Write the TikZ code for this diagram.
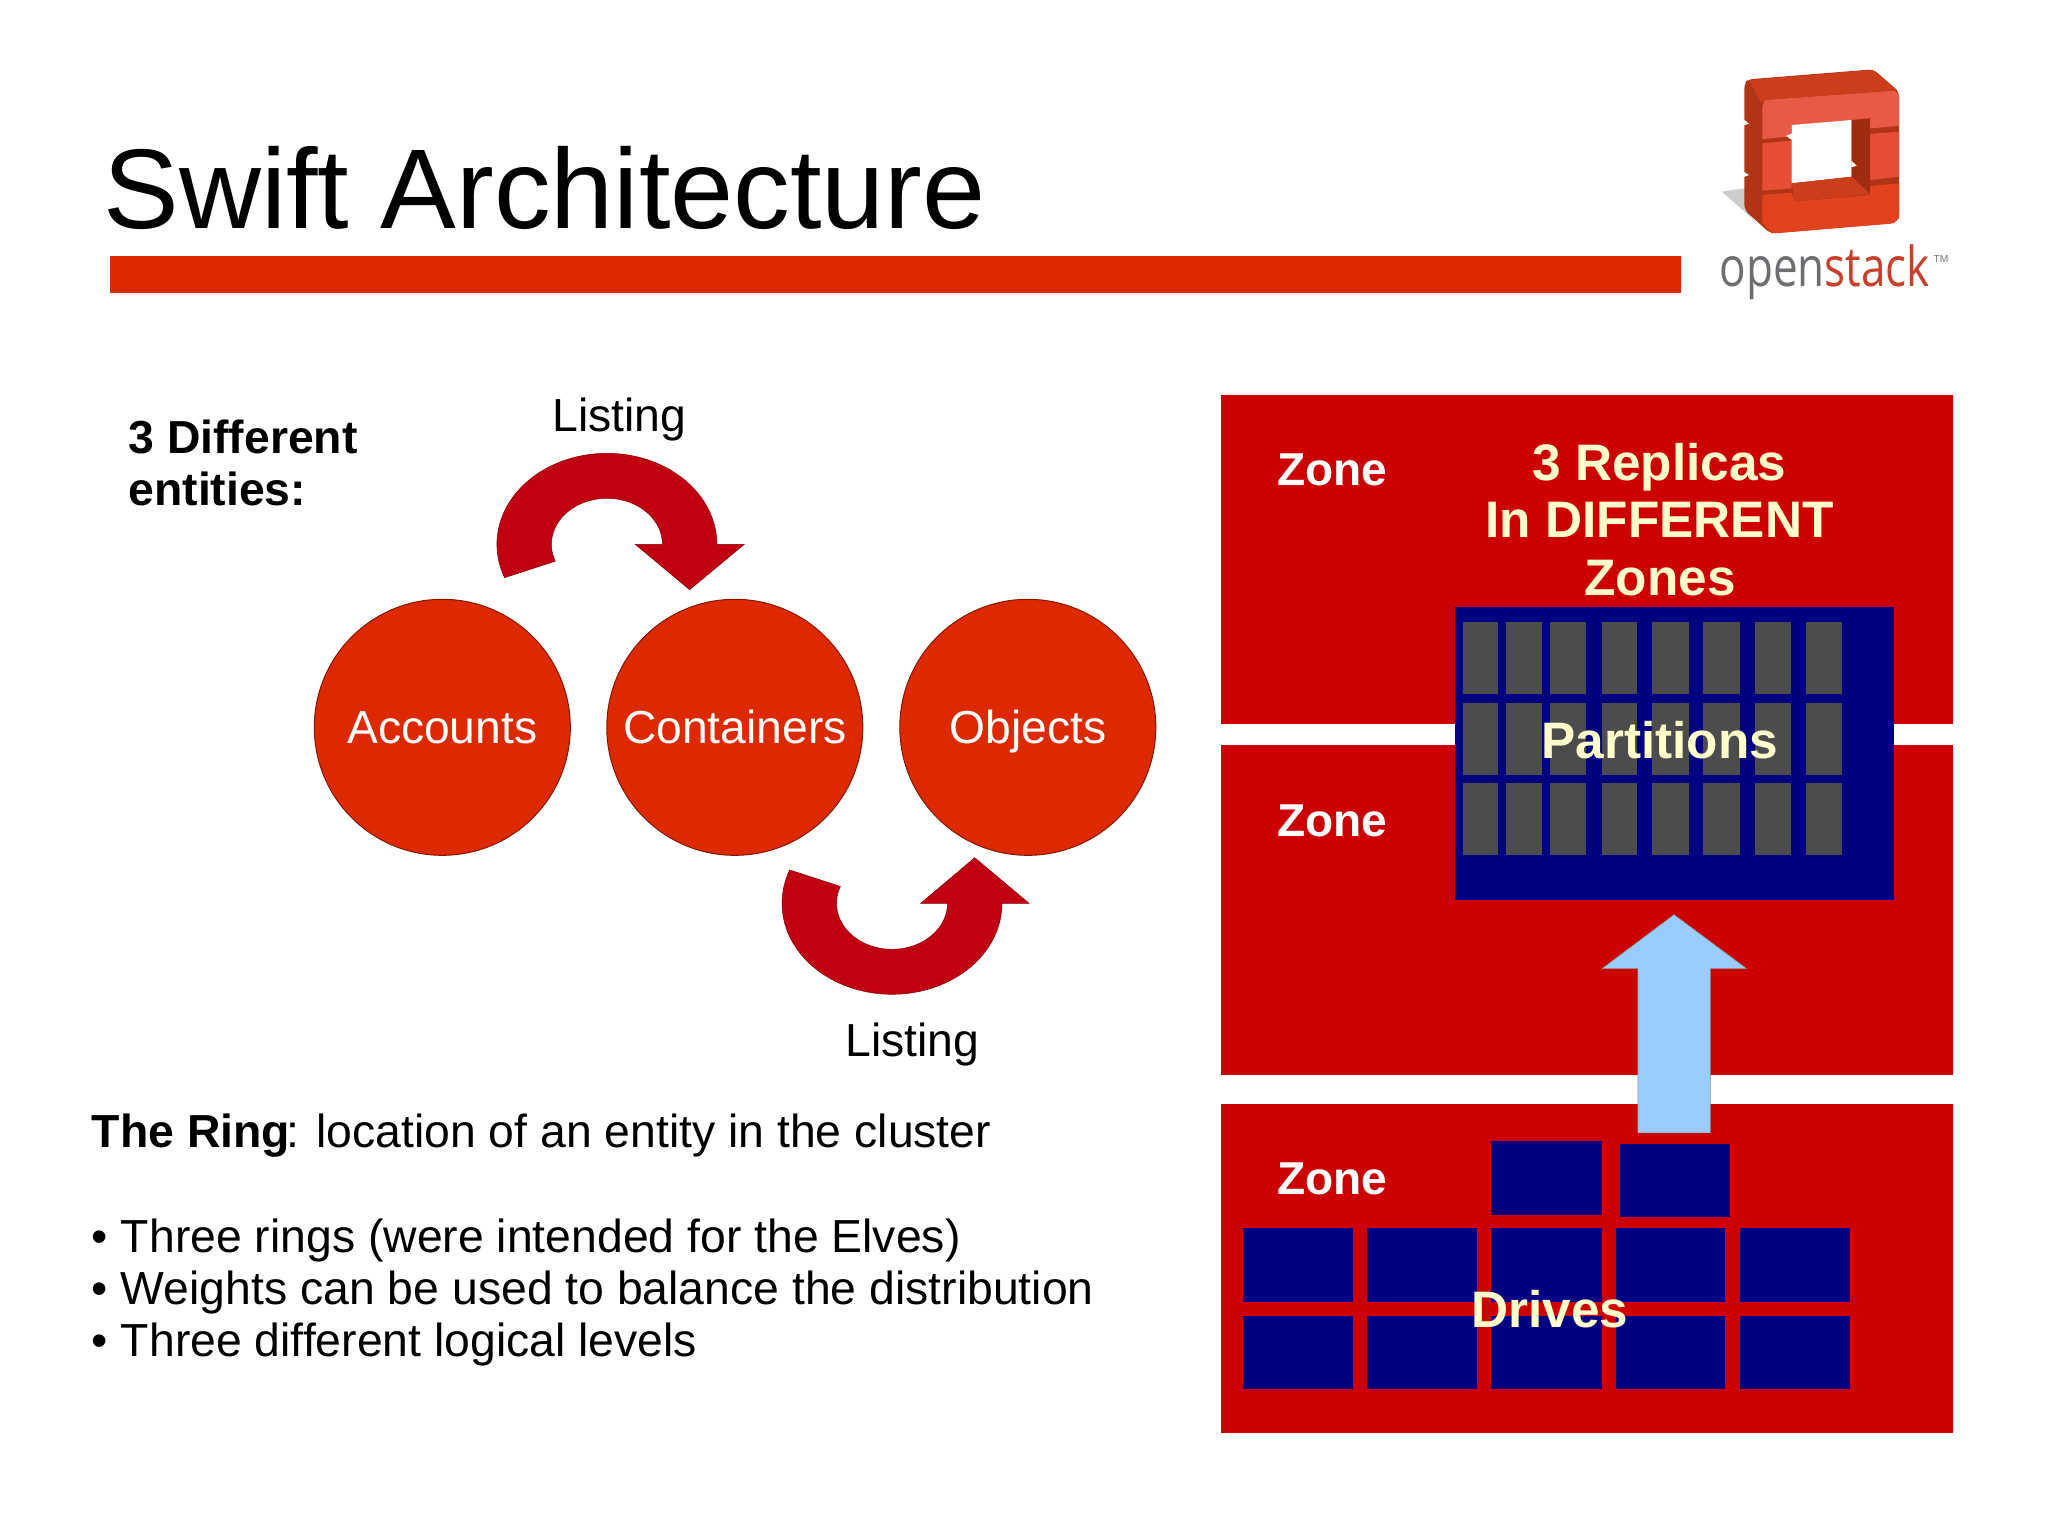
\documentclass[tikz,border=0pt]{standalone}
\usepackage{fontspec}
\setmainfont{Liberation Sans}
\newfontfamily\logofont{Open Sans}
\definecolor{barred}{HTML}{DD2900}
\definecolor{zonered}{HTML}{CC0000}
\definecolor{arrowred}{HTML}{C00010}
\definecolor{drivenavy}{HTML}{000080}
\definecolor{partgrey}{HTML}{4C4C4C}
\definecolor{upblue}{HTML}{99CCFF}
\definecolor{cream}{HTML}{FFFFCC}
\definecolor{logodark}{RGB}{178,52,22}
\definecolor{logodeep}{RGB}{160,44,16}
\definecolor{logotop}{RGB}{204,61,28}
\definecolor{logolight}{RGB}{232,90,70}
\definecolor{logomid}{RGB}{230,79,54}
\definecolor{logolow}{RGB}{226,67,31}
\tikzset{
  entity/.style={circle,fill=barred,draw=barred!60!black,line width=.4pt,minimum size=100pt,inner sep=0pt,
    text=white,text height=13pt,text depth=0pt,font=\fontsize{18.05}{21}\selectfont},
  lab/.style={anchor=base west,inner sep=0pt,font=\fontsize{18.1}{20.6}\selectfont},
  zonelab/.style={anchor=base west,inner sep=0pt,text=white,font=\fontsize{18}{21}\selectfont\bfseries},
  creamlab/.style={anchor=base,inner sep=0pt,text=cream,font=\fontsize{20.05}{22.3}\selectfont\bfseries},
}
\begin{document}
\begin{tikzpicture}[x=0.390625pt,y=-0.390625pt]
    \useasboundingbox (0,0) rectangle (2048,1535);
    % title
    \node[anchor=base west,inner sep=0pt,font=\fontsize{44.3}{50}\selectfont] (title) at (103,228) {Swift Architecture};
    \fill[barred] (110,256) rectangle (1681,292.5);

    % logo
    \begin{scope}[shift={(1680,40)},scale=1/3]
    \fill[black!20] (125,455) -- (195,445) -- (195,510) -- (228,545) -- cycle;
    \fill[logodark,rounded corners=2pt] (193,130) -- (205,118) -- (580,88) -- (657,155) -- (657,535) -- (640,550) -- (272,581) -- (193,510) -- cycle;
    \fill[logotop] (207,120) -- (578,90) -- (650,150) -- (255,180) -- (245,190) -- cycle;
    \fill[logolight] (247,200) -- (255,180) -- (645,152) -- (657,165) -- (657,258) -- (570,265) -- (570,237) -- (335,255) -- (330,290) -- (247,297) -- cycle;
    \fill[logomid] (247,310) -- (335,302) -- (335,445) -- (247,452) -- cycle;
    \fill[logomid] (570,282) -- (657,275) -- (657,410) -- (570,420) -- cycle;
    \fill[white] (335,255) -- (515,240) -- (515,410) -- (335,430) -- cycle;
    \fill[logodeep] (515,240) -- (570,235) -- (570,465) -- (515,410) -- cycle;
    \fill[logotop] (335,430) -- (515,410) -- (570,462) -- (345,485) -- cycle;
    \fill[logolow] (247,465) -- (335,458) -- (345,485) -- (570,465) -- (570,438) -- (657,430) -- (657,535) -- (640,550) -- (275,580) -- (247,548) -- cycle;
    % notches
    \fill[white] (191,238) -- (207,251) -- (191,256) -- cycle;
    \fill[white] (191,395) -- (207,405) -- (191,411) -- cycle;
    \fill[white] (318,288) -- (336,280) -- (336,300) -- cycle;
    \fill[white] (514,362) -- (530,377) -- (514,382) -- cycle;
    \end{scope}
    \node[anchor=base west,inner sep=0pt,font=\logofont\fontsize{21.5}{24}\selectfont,xscale=.8] (logotext) at (1719,286)
      {\textcolor[HTML]{6D6E71}{open}\textcolor[HTML]{C8402A}{stack}};
    \node[anchor=base west,inner sep=0pt,text=black!55,font=\fontsize{4}{5}\selectfont] (logotm) at (1933,262) {TM};

    % left part
    \node[lab,font=\fontsize{18.1}{20.6}\selectfont\bfseries] (entA) at (128,453) {3 Different};
    \node[lab,font=\fontsize{18.1}{20.6}\selectfont\bfseries] (entB) at (128,505) {entities:};
    \node[lab] (listtop) at (552,431) {Listing};
    \node[lab] (listbot) at (845,1056) {Listing};

    \node[entity] (accounts) at (442.3,727.3) {Accounts};
    \node[entity] (containers) at (734.8,727.3) {Containers};
    \node[entity] (objects) at (1027.8,727.3) {Objects};

    % curved arrows
    \filldraw[fill=arrowred,draw=arrowred!70!black,line width=.2pt] plot[domain=201.5:0,samples=60,variable=\t] ({606.9+110*cos(\t)},{544.3-91*sin(\t)})
      -- (744.3,544.3) -- (689.6,589.7) -- (635.2,544.3)
      -- plot[domain=0:201.5,samples=60,variable=\t] ({606.9+55.5*cos(\t)},{544.3-46*sin(\t)}) -- cycle;
    \filldraw[fill=arrowred,draw=arrowred!70!black,line width=.2pt] plot[domain=158.5:360,samples=60,variable=\t] ({892+110*cos(\t)},{903.3-91*sin(\t)})
      -- (1029,903.3) -- (974.7,857.7) -- (920.7,903.3)
      -- plot[domain=360:158.5,samples=60,variable=\t] ({892+55.5*cos(\t)},{903.3-46*sin(\t)}) -- cycle;

    \node[lab] (ring) at (91.4,1147.5) {\textbf{The Ring}\hspace{-1.5pt}: location of an entity in the cluster};
    \node[lab] (itemA) at (91.4,1252.5) {• Three rings (were intended for the Elves)};
    \node[lab] (itemB) at (91.4,1304.5) {• Weights can be used to balance the distribution};
    \node[lab] (itemC) at (91.4,1356.5) {• Three different logical levels};

    % zones
    \fill[zonered] (1220.7,394.6) rectangle (1952.6,723.6);
    \fill[zonered] (1220.7,745.4) rectangle (1952.6,1075);
    \fill[zonered] (1220.7,1103.6) rectangle (1952.6,1433);

    % partitions
    \fill[drivenavy] (1454.9,606.8) rectangle (1893.7,899.6);
    \foreach \xa/\xb in {1462.5/1498.2,1506.3/1542,1550/1585.9,1601.5/1637.3,1652.4/1688.7,1703.3/1739.6,1755.2/1791,1806/1841.8}
      \foreach \ya/\yb in {622.1/694.3,702.5/774.6,782.9/855.4}
        \fill[partgrey] (\xa,\ya) rectangle (\xb,\yb);

    % arrow up
    \filldraw[fill=upblue,draw=black!45,line width=.2pt] (1674,914.6) -- (1746.6,968.6) -- (1710.3,968.6) -- (1710.3,1132.9)
      -- (1637.8,1132.9) -- (1637.8,968.6) -- (1602,968.6) -- cycle;

    % drives
    \fill[drivenavy] (1491.2,1141.4) rectangle (1601.5,1215);
    \fill[drivenavy] (1619.6,1143.9) rectangle (1729.5,1217.1);
    \foreach \xa/\xb in {1242.8/1352.6,1366.8/1477,1491.2/1601.5,1615.6/1725.4,1739.5/1849.9}
      \foreach \ya/\yb in {1227.9/1301.8,1316/1389.3}
        \fill[drivenavy] (\xa,\ya) rectangle (\xb,\yb);

    \node[zonelab] (zoneA) at (1276.5,485.4) {Zone};
    \node[zonelab] (zoneB) at (1276.5,836) {Zone};
    \node[zonelab] (zoneC) at (1276.5,1194) {Zone};
    \node[creamlab] (replA) at (1659.5,480) {3 Replicas};
    \node[creamlab] (replB) at (1659.5,537) {In DIFFERENT};
    \node[creamlab] (replC) at (1660,595) {Zones};
    \node[creamlab] (parts) at (1659.6,758) {Partitions};
    \node[creamlab] (drives) at (1550,1327.5) {Drives};
\end{tikzpicture}
\end{document}
